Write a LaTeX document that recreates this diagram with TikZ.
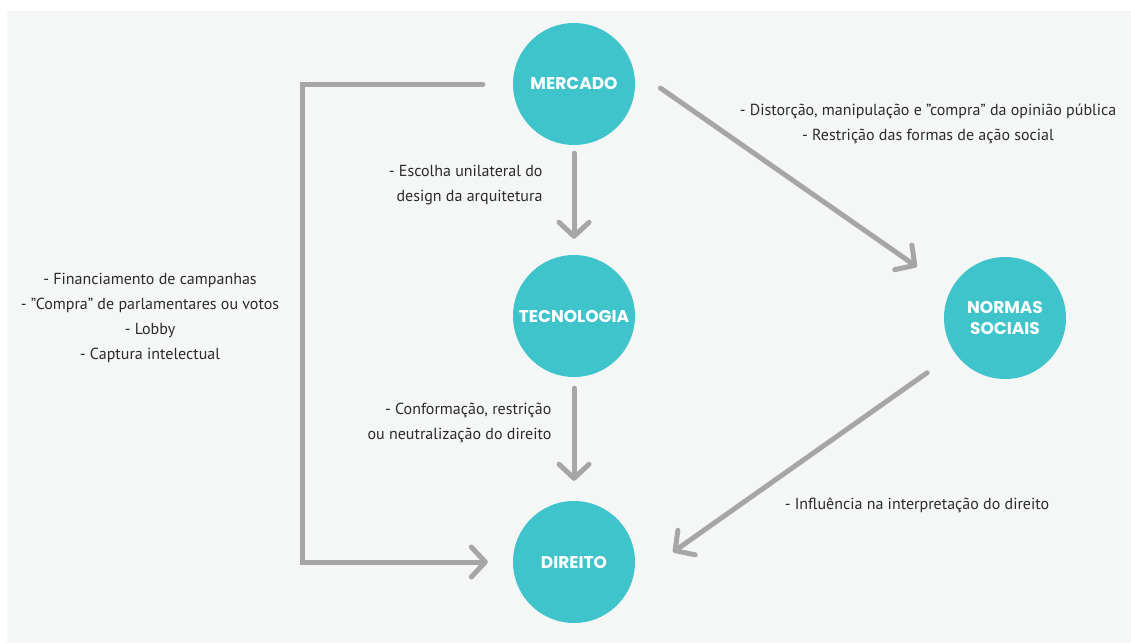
\documentclass[tikz,border=0pt]{standalone}
\usepackage{fontspec}
\setmainfont{PT Sans}
\newfontfamily\circlefont{Poppins}
\usetikzlibrary{arrows.meta}

\definecolor{fundo}{HTML}{F5F7F7}
\definecolor{turquesa}{HTML}{40C4CC}
\definecolor{cinza}{HTML}{A6A6A6}
\definecolor{texto}{HTML}{2B2B2B}

\tikzset{
  tema/.style={circle, fill=turquesa, minimum size=122pt, inner sep=0pt, text=white, align=center, font=\circlefont\bfseries\fontsize{17}{21}\selectfont},
  seta/.style={draw=cinza, line width=5pt, line cap=round, -{Straight Barb[length=14pt, width=30pt, line cap=round, line join=round]}},
  nota/.style={text=texto, font=\fontsize{16}{25}\selectfont}
}

\begin{document}
\begin{tikzpicture}[x=1pt, y=-1pt]
  \useasboundingbox (0,0) rectangle (1131,643);
  \fill[white] (0,0) rectangle (1131,643);
  \fill[fundo] (7,11) rectangle (1131,643);

  % os quatro temas
  \node[tema] (mercado) at (574,84) {MERCADO};
  \node[tema] (tecnologia) at (574,316) {TECNOLOGIA};
  \node[tema] (direito) at (574,562) {DIREITO};
  \node[tema] (normas) at (1005,318) {NORMAS\\SOCIAIS};

  % setas
  \draw[seta, shorten <=8pt, shorten >=16pt] (mercado) -- (tecnologia);
  \draw[seta, shorten <=11pt, shorten >=20pt] (tecnologia) -- (direito);
  \draw[seta, shorten <=33pt, shorten >=41pt] (mercado.14) -- (normas.153);
  \draw[seta, shorten <=34pt, shorten >=50pt] (normas.215) -- (direito.-18);
  \draw[seta, line join=miter, shorten <=30pt, shorten >=25pt] (mercado.west) -- ++(-210,0) |- (direito.west);

  % rotulos
  \node[nota, align=right, anchor=east] (escolha) at (546,185) {- Escolha unilateral do\\design da arquitetura};
  \node[nota, align=right, anchor=east] (conformacao) at (555,423) {- Conformação, restrição\\ou neutralização do direito};
  \node[nota, align=center] (distorcao) at (928,124) {- Distorção, manipulação e "compra" da opinião pública\\- Restrição das formas de ação social};
  \node[nota, align=center] (financiamento) at (150,318) {- Financiamento de campanhas\\- "Compra" de parlamentares ou votos\\- Lobby\\- Captura intelectual};
  \node[nota] (influencia) at (917,505) {- Influência na interpretação do direito};
\end{tikzpicture}
\end{document}
